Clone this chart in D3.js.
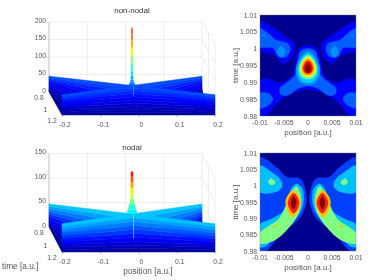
<!DOCTYPE html>
<html>
<head>
<meta charset="utf-8">
<script src="https://cdn.jsdelivr.net/npm/d3@7"></script>
<style>
  html, body { margin: 0; padding: 0; background: #fff; }
  svg { display: block; filter: blur(0.35px); }
  text { font-family: "Liberation Sans", Arial, sans-serif; font-size: 8px; fill: #555; }
  text.tick { font-size: 6.8px; }
</style>
</head>
<body>
<div id="chart"></div>
<script>
// surface plots: ticks and values
const posTicks3d = [-0.2, -0.1, 0, 0.1, 0.2];
const timeTicks3d = [0.8, 1, 1.2];
const zTicksTop = [0, 50, 100, 150, 200];
const zTicksBottom = [0, 50, 100, 150];
const ridgeLevelsTop = [0, 4, 8, 12, 17, 22, 27, 32, 37, 41, 45];
const ridgeLevelsBottom = [0, 4, 8, 12, 17, 22, 27, 32, 37, 42, 47];
// [z, half width in position]
const peakTop = [[45, 0.009], [50, 0.007], [55, 0.005], [60, 0.0035], [70, 0.003], [80, 0.003], [100, 0.003], [120, 0.003], [140, 0.0028], [160, 0.0025], [175, 0.002], [190, 0.0015]];
const peakBottom = [[47, 0.014], [55, 0.011], [65, 0.007], [75, 0.004], [85, 0.004], [95, 0.004], [105, 0.0035], [115, 0.0035], [125, 0.003]];

// contour plots: ticks
const posTicks2d = [-0.01, -0.005, 0, 0.005, 0.01];
const timeTicks2d = [0.98, 0.985, 0.99, 0.995, 1, 1.005, 1.01];
const timeLabels2d = ["0.98", "0.985", "0.99", "0.995", "1", "1.005", "1.01"];
const posLabels2d = ["-0.01", "-0.005", "0", "0.005", "0.01"];

const coloursTop = ["#0000ff", "#0060ff", "#0090ff", "#00d0ff", "#70ffa0", "#ffee00", "#ff9000", "#e81000", "#880000"];
const coloursBottom = ["#0040ff", "#00c0ff", "#80ff80", "#ffc000", "#ff2000", "#800000"];

// non-nodal contours, right half only, [position, time]
const nonNodalCentre1 = [[0, 1.0011], [0.0017, 1.0001], [0.0024, 0.9981], [0.0029, 0.9936], [0.0035, 0.9916], [0.0062, 0.9899], [0.0083, 0.9911], [0.01, 0.9906], [0.0102, 0.98], [0.009, 0.9798], [0.0066, 0.9836], [0.0035, 0.9866], [0, 0.9878]];
const nonNodalCentre2 = [[0, 1.0001], [0.0015, 0.9994], [0.0021, 0.9971], [0.0025, 0.9926], [0.0038, 0.9906], [0.0059, 0.9881], [0.0057, 0.9864], [0.0042, 0.9861], [0.0021, 0.9881], [0, 0.9888]];
const nonNodalCentre3 = [[0, 0.9994], [0.0018, 0.9971], [0.0026, 0.9932], [0.0018, 0.9901], [0, 0.9891]];
const nonNodalCentre4 = [[0, 0.9988], [0.0015, 0.9968], [0.0022, 0.9934], [0.0015, 0.9907], [0, 0.9898]];
const nonNodalCentre5 = [[0, 0.9981], [0.0013, 0.9965], [0.0019, 0.9938], [0.0013, 0.9916], [0, 0.9909]];
const nonNodalCentre6 = [[0, 0.9976], [0.0011, 0.9963], [0.0016, 0.994], [0.0011, 0.9922], [0, 0.9916]];
const nonNodalCentre7 = [[0, 0.9971], [0.0009, 0.996], [0.0013, 0.9941], [0.0009, 0.9926], [0, 0.9921]];
const nonNodalCentre8 = [[0, 0.9964], [0.0007, 0.9956], [0.001, 0.9941], [0.0007, 0.993], [0, 0.9926]];
const nonNodalCentre9 = [[0, 0.9956], [0.0004, 0.995], [0.0006, 0.9939], [0.0004, 0.9931], [0, 0.9928]];
const nonNodalWing1 = [[0.0102, 1.0081], [0.0076, 1.0066], [0.0045, 1.0034], [0.0031, 1.0021], [0.0028, 0.9996], [0.0035, 0.9971], [0.0052, 0.9956], [0.0069, 0.9981], [0.0102, 0.9996]];
const nonNodalWing2 = [[0.0102, 1.0061], [0.0087, 1.0051], [0.0066, 1.0026], [0.0042, 1.0016], [0.0037, 0.9996], [0.0045, 0.9976], [0.0062, 0.9976], [0.0073, 1.0001], [0.0102, 1.0006]];
const nonNodalWing3 = [[0.0056, 1.0008], [0.0064, 0.9991], [0.0056, 0.9974], [0.0047, 0.9991]];
const nonNodalEdge3 = [[0.0092, 1.0042], [0.0096, 1.004], [0.0092, 1.0037], [0.0089, 1.004]];
const nonNodalLow2 = [[0.0102, 0.9866], [0.0083, 0.9868], [0.0073, 0.9851], [0.0083, 0.9831], [0.0102, 0.9823]];

// nodal contours, right side, mirrored when drawn
const nodalOuter1 = [[0.0102, 1.0086], [0.0062, 1.0052], [0.0045, 1.0027], [0.0017, 1.0022], [0.0008, 1.0001], [0.0003, 0.9955], [0.001, 0.9918], [0.0021, 0.9894], [0.0056, 0.9854], [0.0087, 0.98], [0.0102, 0.98]];
const nodalWing2 = [[0.0102, 1.0062], [0.0073, 1.0039], [0.0056, 1.0016], [0.0054, 0.9996], [0.0066, 0.9981], [0.0102, 0.9981]];
const nodalCentre2 = [[0.0024, 1.0006], [0.0012, 0.9991], [0.0009, 0.9955], [0.0014, 0.9925], [0.0026, 0.9899], [0.0059, 0.9859], [0.009, 0.9813], [0.0102, 0.9813], [0.0102, 0.9879], [0.0076, 0.9899], [0.0052, 0.992], [0.0042, 0.9955], [0.0035, 0.9991]];
const nodalWing3 = [[0.0068, 1.0011], [0.0078, 1.0022], [0.0083, 1.0011], [0.0075, 1.0001]];
const nodalCentre3 = [[0.0024, 0.9998], [0.0017, 0.9981], [0.0014, 0.995], [0.0021, 0.991], [0.0038, 0.9874], [0.0069, 0.9833], [0.0102, 0.9823], [0.0102, 0.9852], [0.0087, 0.9872], [0.0061, 0.9899], [0.0049, 0.993], [0.0036, 0.9976]];
const nodalSpot4 = [[0.0068, 0.988], [0.0072, 0.9877], [0.0068, 0.9874], [0.0064, 0.9877]];
const nodalCentre4 = [[0.0031, 0.9986], [0.0043, 0.9968], [0.0047, 0.995], [0.0043, 0.9925], [0.0031, 0.9903], [0.002, 0.9925], [0.0015, 0.995], [0.0019, 0.9968]];
const nodalCentre5 = [[0.003, 0.9978], [0.0038, 0.9965], [0.0042, 0.9948], [0.0038, 0.9928], [0.003, 0.9915], [0.0022, 0.9928], [0.0018, 0.9948], [0.0022, 0.9965]];
const nodalCentre6 = [[0.003, 0.9968], [0.0036, 0.9948], [0.003, 0.9927], [0.0024, 0.9948]];

const svg = d3.select("#chart").append("svg").attr("width", 374).attr("height", 280);

// matlab jet
const jetStops = [0, 0.125, 0.375, 0.625, 0.875, 1];
const jetColours = ["#00008f", "#0000ff", "#00ffff", "#ffff00", "#ff0000", "#800000"];

function drawSurface(opts) {
    const g = svg.append("g");
    const jet = d3.scaleLinear().domain(jetStops.map(d => d * opts.zMax)).range(jetColours).clamp(true);

    // floor projection: position runs along x, time shifts the point right and down
    const xPos = d3.scaleLinear().domain([-0.2, 0.2]).range([0, 153]);
    const xTime = d3.scaleLinear().domain([0.8, 1.2]).range([49, 62]);
    const yTime = d3.scaleLinear().domain([0.8, 1.2]).range(opts.floorY);
    const zScale = d3.scaleLinear().domain([0.8, 1.2]).range(opts.zK);
    const px = (p, t) => xPos(p) + xTime(t);
    const py = (t, z) => yTime(t) - zScale(t) * z;
    const wallY = (t, z) => yTime(t) - opts.zK[0] * z;
    const line = d3.line();

    // back and right walls
    const topZ = opts.zTicks[opts.zTicks.length - 1];
    const grid = g.append("g").attr("stroke", "#e2e2e2").attr("stroke-width", 0.6).attr("fill", "none");
    opts.zTicks.forEach(z => {
        grid.append("path").attr("d", line([[px(-0.2, 0.8), wallY(0.8, z)], [px(0.2, 0.8), wallY(0.8, z)], [px(0.2, 1.2), wallY(1.2, z)]]));
    });
    posTicks3d.slice(1, 4).forEach(p => {
        grid.append("line").attr("x1", px(p, 0.8)).attr("x2", px(p, 0.8)).attr("y1", wallY(0.8, 0)).attr("y2", wallY(0.8, topZ));
    });
    timeTicks3d.forEach(t => {
        grid.append("line").attr("x1", px(0.2, t)).attr("x2", px(0.2, t)).attr("y1", wallY(t, 0)).attr("y2", wallY(t, topZ));
    });
    g.append("line").attr("x1", px(-0.2, 0.8)).attr("x2", px(-0.2, 0.8))
        .attr("y1", wallY(0.8, 0)).attr("y2", wallY(0.8, topZ)).attr("stroke", "#999").attr("stroke-width", 0.6);

    // one sheet of the surface: a band per level, each end sliding between
    // its floor point and its point on the ridge top
    function sheet(a0, a1, b0, b1, levels) {
        const ridge = levels[levels.length - 1];
        const at = (s0, s1, z) => {
            const p = d3.interpolateNumber(s0[0], s1[0])(z / ridge);
            const t = d3.interpolateNumber(s0[1], s1[1])(z / ridge);
            return [px(p, t), py(t, z)];
        };
        d3.pairs(levels).forEach(([z0, z1]) => {
            const c = jet((z0 + z1) / 2);
            g.append("path")
                .attr("d", line([at(a0, a1, z0), at(b0, b1, z0), at(b0, b1, z1), at(a0, a1, z1)]) + "Z")
                .attr("fill", c).attr("stroke", c).attr("stroke-width", 0.5);
        });
    }

    const centre = [0, 1];
    // side sheets first, the front ones cover their lower ends
    sheet([-0.2, 0.8], [-0.2, 0.8], [-0.2, 1.2], centre, opts.levels);
    sheet([0.2, 0.8], [0.2, 0.8], [0.2, 1.2], centre, opts.levels);
    sheet([-0.2, 1.2], [-0.2, 1.2], [0, 1.2], centre, opts.levels);
    sheet([0.2, 1.2], [0.2, 1.2], [0, 1.2], centre, opts.levels);

    d3.pairs(opts.peak).forEach(([a, b]) => {
        g.append("path")
            .attr("d", line([[px(-a[1], 1), py(1, a[0])], [px(a[1], 1), py(1, a[0])], [px(b[1], 1), py(1, b[0])], [px(-b[1], 1), py(1, b[0])]]) + "Z")
            .attr("fill", jet((a[0] + b[0]) / 2));
    });
    g.append("line")
        .attr("x1", px(0.004, 1)).attr("x2", px(0.004, 1))
        .attr("y1", py(1, opts.levels[opts.levels.length - 1])).attr("y2", py(1, opts.seamZ))
        .attr("stroke", opts.seamColour).attr("stroke-width", 0.6);

    // axes
    g.selectAll(".zlab").data(opts.zTicks).enter().append("text").attr("class", "tick")
        .attr("x", 46).attr("y", d => wallY(0.8, d) + 0.5).attr("text-anchor", "end").text(d => d);
    g.selectAll(".tlab").data(timeTicks3d).enter().append("text").attr("class", "tick")
        .attr("x", d => xTime(d) - 10).attr("y", d => yTime(d) + 8).attr("text-anchor", "middle").text(d => d);
    g.selectAll(".plab").data(posTicks3d).enter().append("text").attr("class", "tick")
        .attr("x", d => px(d, 1.2) + 3).attr("y", yTime(1.2) + 12).attr("text-anchor", "middle").text(d => d);
    g.selectAll(".ptick").data(posTicks3d).enter().append("line")
        .attr("x1", d => px(d, 1.2)).attr("x2", d => px(d, 1.2) + 1)
        .attr("y1", yTime(1.2)).attr("y2", yTime(1.2) + 2)
        .attr("stroke", "#666").attr("stroke-width", 0.5);
    g.append("text").attr("x", 132).attr("y", opts.titleY).attr("text-anchor", "middle").style("fill", "#333").text(opts.title);
}

function drawContours(opts) {
    const g = svg.append("g");
    const x = d3.scaleLinear().domain([-0.01, 0.01]).range([260, 356]);
    const y = d3.scaleLinear().domain([0.98, 1.01]).range(opts.yRange);
    const clipId = "clip" + opts.id;
    svg.append("clipPath").attr("id", clipId).append("rect")
        .attr("x", 260).attr("y", opts.yRange[1]).attr("width", 96).attr("height", opts.yRange[0] - opts.yRange[1]);

    g.append("rect").attr("x", 260).attr("y", opts.yRange[1]).attr("width", 96)
        .attr("height", opts.yRange[0] - opts.yRange[1]).attr("fill", "#00008f");

    const outline = d3.line().x(d => x(d[0])).y(d => y(d[1])).curve(d3.curveCatmullRomClosed.alpha(0.5));
    const layer = g.append("g").attr("clip-path", `url(#${clipId})`);
    opts.shapes.forEach(s => {
        const mirror = s.pts.map(d => [-d[0], d[1]]);
        if (s.joined) {
            // half outline running top to bottom on the right, closed through the left
            layer.append("path").attr("d", outline(s.pts.concat(mirror.slice(1, -1).reverse()))).attr("fill", opts.colours[s.level]);
        } else {
            layer.append("path").attr("d", outline(s.pts)).attr("fill", opts.colours[s.level]);
            layer.append("path").attr("d", outline(mirror)).attr("fill", opts.colours[s.level]);
        }
    });

    g.append("rect").attr("x", 260).attr("y", opts.yRange[1]).attr("width", 96)
        .attr("height", opts.yRange[0] - opts.yRange[1]).attr("fill", "none").attr("stroke", "#777").attr("stroke-width", 0.4);

    g.selectAll(".tl").data(timeTicks2d).enter().append("text").attr("class", "tick")
        .attr("x", 257).attr("y", d => y(d) + 2.5).attr("text-anchor", "end")
        .text((d, i) => timeLabels2d[i]);
    g.selectAll(".pl").data(posTicks2d).enter().append("text").attr("class", "tick")
        .attr("x", d => x(d)).attr("y", opts.yRange[0] + 8.5).attr("text-anchor", "middle")
        .text((d, i) => posLabels2d[i]);
    g.append("text").attr("x", 308).attr("y", opts.yRange[0] + 19).attr("text-anchor", "middle").text("position [a.u.]");
    g.append("text").attr("transform", `translate(238, ${(opts.yRange[0] + opts.yRange[1]) / 2}) rotate(-90)`)
        .attr("text-anchor", "middle").text("time [a.u.]");
}

drawSurface({
    title: "non-nodal", titleY: 13, zMax: 215, zTicks: zTicksTop, levels: ridgeLevelsTop,
    floorY: [92, 115], zK: [0.35, 0.45], peak: peakTop, seamZ: 18, seamColour: "#20a8ff"
});
drawSurface({
    title: "nodal", titleY: 150, zMax: 140, zTicks: zTicksBottom, levels: ridgeLevelsBottom,
    floorY: [227, 252], zK: [0.49, 0.6], peak: peakBottom, seamZ: 2, seamColour: "#a0e8ff"
});
svg.append("text").attr("x", 2).attr("y", 269).style("font-size", "8.3px").text("time [a.u.]");
svg.append("text").attr("x", 148).attr("y", 274).attr("text-anchor", "middle").style("font-size", "8.3px").text("position [a.u.]");

drawContours({
    id: "top", yRange: [116, 15], colours: coloursTop,
    shapes: [
        { level: 0, joined: true, pts: nonNodalCentre1 },
        { level: 0, pts: nonNodalWing1 },
        { level: 1, joined: true, pts: nonNodalCentre2 },
        { level: 1, pts: nonNodalWing2 },
        { level: 1, pts: nonNodalLow2 },
        { level: 2, pts: nonNodalWing3 },
        { level: 2, pts: nonNodalEdge3 },
        { level: 2, joined: true, pts: nonNodalCentre3 },
        { level: 3, joined: true, pts: nonNodalCentre4 },
        { level: 4, joined: true, pts: nonNodalCentre5 },
        { level: 5, joined: true, pts: nonNodalCentre6 },
        { level: 6, joined: true, pts: nonNodalCentre7 },
        { level: 7, joined: true, pts: nonNodalCentre8 },
        { level: 8, joined: true, pts: nonNodalCentre9 }
    ]
});
drawContours({
    id: "bottom", yRange: [251, 153], colours: coloursBottom,
    shapes: [
        { level: 0, pts: nodalOuter1 },
        { level: 1, pts: nodalWing2 },
        { level: 1, pts: nodalCentre2 },
        { level: 2, pts: nodalWing3 },
        { level: 2, pts: nodalCentre3 },
        { level: 3, pts: nodalSpot4 },
        { level: 3, pts: nodalCentre4 },
        { level: 4, pts: nodalCentre5 },
        { level: 5, pts: nodalCentre6 }
    ]
});
</script>
</body>
</html>
